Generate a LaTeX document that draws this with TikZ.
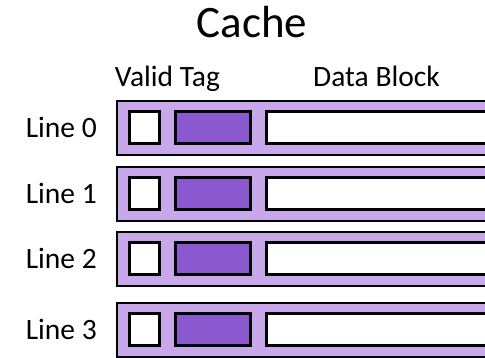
\documentclass[tikz,border=0pt]{standalone}
\usepackage{fontspec}
\setmainfont{Carlito}
\definecolor{lightlilac}{RGB}{201,167,235}
\definecolor{darklilac}{RGB}{138,88,207}
\newcommand*{\mylabelfont}{\fontsize{29.5}{34}\selectfont}
\newcommand*{\mytitlefont}{\fontsize{45}{52}\selectfont}
\tikzset{
   rowbox/.style   = {draw, line width=2pt, fill=lightlilac, anchor=north west,
                      inner sep=0pt, minimum width=400pt, minimum height=54pt},
   cellbox/.style  = {draw, line width=3pt, anchor=west, inner sep=0pt,
                      minimum height=32pt},
   labeltext/.style = {font=\mylabelfont, inner sep=0pt}
}
\newcommand{\cacheline}[3]{%
   % row number, top edge, label
   \pgfmathsetmacro{\ytop}{#2}
   \pgfmathsetmacro{\ymid}{#2+27}
   \node[rowbox] (row#1) at (116,\ytop) {};
   \node[cellbox, fill=white, minimum width=30pt] (valid#1) at (128,\ymid) {};
   \node[cellbox, fill=darklilac, minimum width=75pt] (tag#1) at (174,\ymid) {};
   \node[cellbox, fill=white, minimum width=250pt] (data#1) at (265,\ymid) {};
   \node[labeltext, anchor=east] (line#1) at (97,\ymid) {#3};
}

\begin{document}
\begin{tikzpicture}[x=1pt, y=-1pt]
   \useasboundingbox (0,0) rectangle (485,357);
   \clip (0,0) rectangle (485,357);

   \cacheline{0}{100}{Line 0}
   \cacheline{1}{166}{Line 1}
   \cacheline{2}{231}{Line 2}
   \cacheline{3}{302}{Line 3}

   \node[labeltext, anchor=base] (validtag) at (167.5,86) {Valid Tag};
   \node[labeltext, anchor=base] (datahead) at (376.5,86) {Data Block};
   \node[font=\mytitlefont, inner sep=0pt, anchor=base] (title) at (252,37) {Cache};
\end{tikzpicture}
\end{document}
